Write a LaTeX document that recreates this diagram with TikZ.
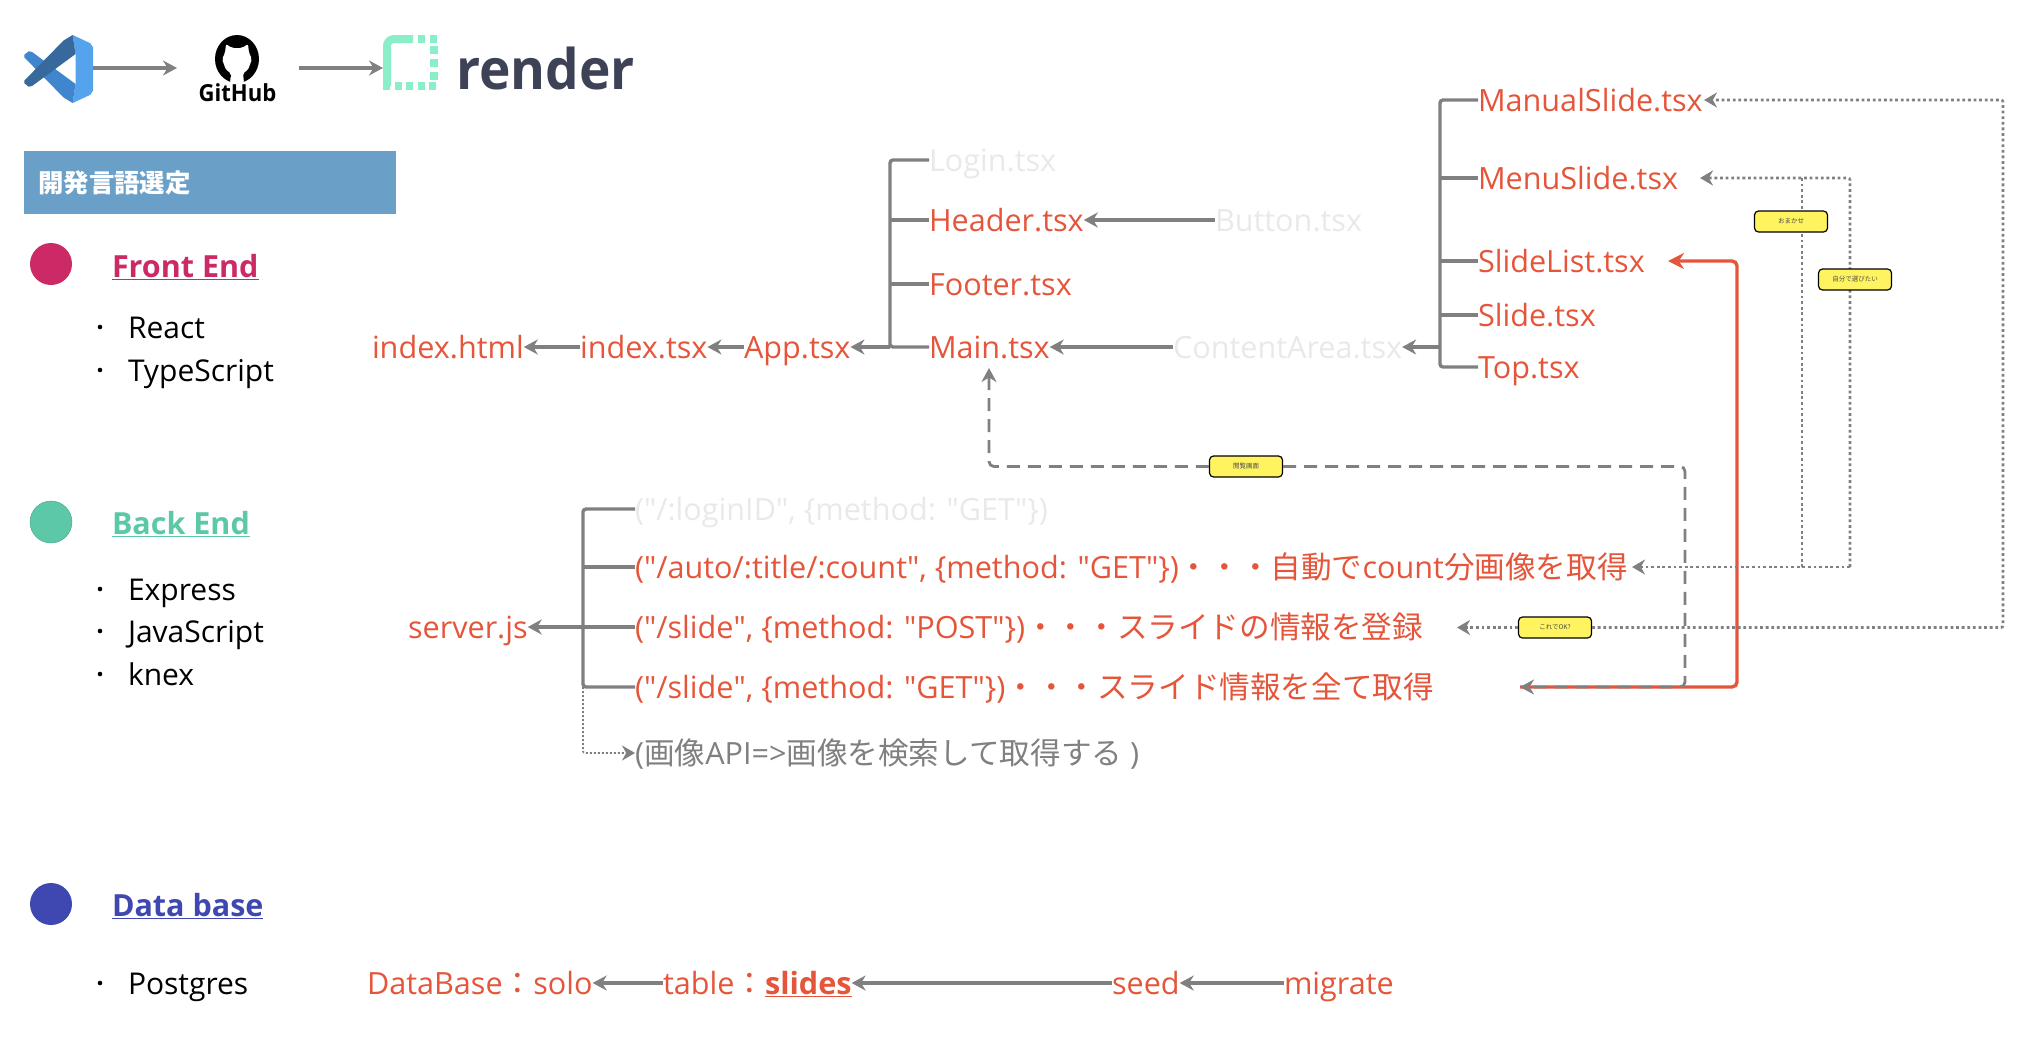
\documentclass[tikz,border=0pt]{standalone}
\usepackage{fontspec}
\setmainfont{Open Sans}
\newfontfamily\cjk{Noto Sans CJK JP}
\newfontfamily\rawfont{Open Sans}
\usetikzlibrary{arrows.meta}
\definecolor{tred}{HTML}{E5553A}
\definecolor{tgray}{HTML}{808080}
\definecolor{tfaint}{HTML}{E9E9E9}
\definecolor{tnote}{HTML}{FFF45F}
\definecolor{tfront}{HTML}{CC2A66}
\definecolor{tback}{HTML}{5CC8A8}
\definecolor{tdata}{HTML}{3F48B0}
\definecolor{tmint}{HTML}{8AEEC9}
\definecolor{tink}{HTML}{3D4257}
\definecolor{tbox}{HTML}{6A9FC8}
\definecolor{vsa}{HTML}{55A3EC}
\definecolor{vsb}{HTML}{3F86CE}
\definecolor{vsc}{HTML}{38699C}
\newcommand{\dq}{{\rawfont\symbol{34}}}
\tikzset{
  lab/.style={anchor=west, inner sep=0pt, outer sep=0pt, text height=24pt, text depth=2pt, font=\fontsize{30.6}{36}\selectfont, text=tred},
  faint/.style={lab, text=tfaint},
  plain/.style={lab, text=black, font=\fontsize{30}{36}\selectfont},
  head/.style={lab, font=\bfseries\fontsize{30.5}{36}\selectfont},
  bullet/.style={circle, fill=black, inner sep=0pt, minimum size=4.6pt},
  group/.style={circle, inner sep=0pt, minimum size=42pt},
  note/.style={draw=black, fill=tnote, rounded corners=4pt, line width=1.2pt, minimum width=73pt, minimum height=21pt, inner sep=0pt, font=\cjk\fontsize{6.5}{7}\selectfont, text=black!70},
  arr/.style={draw=tgray, line width=3.4pt, -{Stealth[length=14pt,width=15pt]}},
  branch/.style={draw=tgray, line width=3.4pt, rounded corners=3pt},
  dots/.style={draw=tgray, line width=2.6pt, dash pattern=on 2.8pt off 2.8pt, rounded corners=2pt},
  dotarr/.style={dots, -{Stealth[length=13pt,width=15pt]}},
  dashline/.style={draw=tgray, line width=2.8pt, dash pattern=on 13pt off 8pt, rounded corners=5pt},
}
\begin{document}
\begin{tikzpicture}[x=1pt,y=-1pt]
\useasboundingbox (0,0) rectangle (2020,1042);

\begin{scope}[shift={(23,35)},xscale=.7,yscale=.68]
\fill[vsa] (71,0) -- (96,12) -- (100,18) -- (100,82) -- (96,88) -- (71,100) -- (75,72) -- (75,28) -- cycle;
\fill[vsb] (71,100) -- (75,72) -- (13,25) -- (8,24) -- (2,29) -- (2,33) -- (58,92) -- cycle;
\fill[vsc] (71,0) -- (75,28) -- (13,75) -- (8,76) -- (2,71) -- (2,67) -- (58,8) -- cycle;
\end{scope}
\node[inner sep=0pt, minimum width=70pt, minimum height=68pt] (vscode) at (58,68) {};

\fill[black] (237,59) ellipse (22 and 24);
\fill[white, rounded corners=2pt] (226,44) -- (232,48) -- (242,48) -- (248,44) -- (249,53) -- (252,59) -- (248,70) -- (243,73) -- (244,83) -- (230,83) -- (231,73) -- (226,70) -- (222,59) -- (225,53) -- cycle;
\draw[black, line width=1.5pt] (220,72) .. controls (224,76) and (227,76) .. (231,76);
\node[inner sep=0pt, xscale=.94] (github) at (237.5,93) {\bfseries\fontsize{23.5}{26}\selectfont GitHub};
\coordinate (ghin) at (177,68);
\coordinate (ghout) at (299,68);

\draw[line width=8pt, tmint, rounded corners=7pt] (387,86) -- (387,39) -- (413,39);
\draw[line width=8pt, tmint, dash pattern=on 7pt off 4.5pt] (418,39) -- (438,39);
\draw[line width=8pt, tmint, dash pattern=on 8pt off 5pt] (434,46) -- (434,82);
\draw[line width=8pt, tmint, dash pattern=on 7pt off 4.5pt] (383,86) -- (438,86);
\coordinate (renderin) at (383,68);
\node[inner sep=0pt, anchor=west, text=tink, xscale=.95] (render) at (456,68) {\bfseries\fontsize{56}{60}\selectfont render};

\draw[arr] (vscode.east) -- (ghin);
\draw[arr] (ghout) -- (renderin);

\node[fill=tbox, minimum width=372pt, minimum height=63pt, inner sep=0pt] (title) at (210,182.5) {};
\node[anchor=west, inner sep=0pt, text=white, font=\cjk\bfseries\fontsize{25.4}{30}\selectfont] (titletext) at (38,183) {開発言語選定};

\node[group, fill=tfront] (front) at (51,264) {};
\node[head, text=tfront] (frontname) at (112,266) {\underline{Front End}};
\node[bullet] (b1) at (100,327) {};
\node[plain] (react) at (128,327) {React};
\node[bullet] (b2) at (100,370) {};
\node[plain] (tscript) at (128,370) {TypeScript};

\node[group, fill=tback, draw=tback!80!black] (back) at (51,522) {};
\node[head, text=tback] (backname) at (112,523) {\underline{Back End}};
\node[bullet] (b3) at (100,589) {};
\node[plain] (express) at (128,589) {Express};
\node[bullet] (b4) at (100,631) {};
\node[plain] (jscript) at (128,631) {JavaScript};
\node[bullet] (b5) at (100,674) {};
\node[plain] (knex) at (128,674) {knex};

\node[group, fill=tdata] (data) at (51,904) {};
\node[head, text=tdata] (dataname) at (112,905) {\underline{Data base}};
\node[bullet] (b6) at (100,983) {};
\node[plain] (postgres) at (128,983) {Postgres};

\node[lab] (indexhtml) at (372,347) {index.html};
\node[lab] (indextsx) at (580,347) {index.tsx};
\node[lab] (apptsx) at (744,347) {App.tsx};
\node[faint] (login) at (929,160) {Login.tsx};
\node[lab] (header) at (929,220) {Header.tsx};
\node[lab] (footer) at (929,284) {Footer.tsx};
\node[lab] (main) at (929,347) {Main.tsx};
\node[faint] (button) at (1215,220) {Button.tsx};
\node[faint] (content) at (1173,347) {ContentArea.tsx};
\node[lab] (manual) at (1478,100) {ManualSlide.tsx};
\node[lab] (menu) at (1478,178) {MenuSlide.tsx};
\node[lab] (slidelist) at (1478,261) {SlideList.tsx};
\node[lab] (slide) at (1478,315) {Slide.tsx};
\node[lab] (top) at (1478,367) {Top.tsx};

\coordinate (apptrunk) at (890,347);
\coordinate (listtrunk) at (1440,347);
\draw[arr] (indextsx.west) -- (indexhtml.east);
\draw[arr] (apptsx.west) -- (indextsx.east);
\draw[arr] (apptrunk) -- (apptsx.east);
\draw[branch] (login.west) -- (login.west -| apptrunk) -- (apptrunk) -- (main.west);
\draw[branch] (header.west) -- (header.west -| apptrunk);
\draw[branch] (footer.west) -- (footer.west -| apptrunk);
\draw[arr] (button.west) -- (header.east);
\draw[arr] (content.west) -- (main.east);
\draw[arr] (listtrunk) -- (content.east);
\draw[branch] (manual.west) -- (manual.west -| listtrunk) -- (top.west -| listtrunk) -- (top.west);
\draw[branch] (menu.west) -- (menu.west -| listtrunk);
\draw[branch] (slidelist.west) -- (slidelist.west -| listtrunk);
\draw[branch] (slide.west) -- (slide.west -| listtrunk);

\node[faint] (rlogin) at (635,509) {(\dq/:loginID\dq, \{method: \dq GET\dq\})};
\node[lab] (rauto) at (635,567) {(\dq/auto/:title/:count\dq, \{method: \dq GET\dq\})\cjk・・・自動で\normalfont count\cjk 分画像を取得};
\node[lab] (rpost) at (635,627) {(\dq/slide\dq, \{method: \dq POST\dq\})\cjk・・・スライドの情報を登録};
\node[lab] (rget) at (635,687) {(\dq/slide\dq, \{method: \dq GET\dq\})\cjk・・・スライド情報を全て取得};
\node[lab, text=tgray] (rimage) at (635,753) {(\cjk 画像\normalfont API=>\cjk 画像を検索して取得する\normalfont\ )};
\node[lab] (server) at (408,627) {server.js};

\coordinate (servertrunk) at (583,627);
\draw[arr] (servertrunk) -- (server.east);
\draw[branch] (rlogin.west) -- (rlogin.west -| servertrunk) -- (rget.west -| servertrunk) -- (rget.west);
\draw[branch] (rauto.west) -- (rauto.west -| servertrunk);
\draw[branch] (rpost.west) -- (servertrunk);
\draw[dotarr, line width=1.8pt, dash pattern=on 2pt off 2pt] (rget.west -| servertrunk) -- (rimage.west -| servertrunk) -- (rimage.west);

\node[lab] (dbname) at (367,983) {DataBase\cjk：\normalfont solo};
\node[lab] (table) at (663,983) {table\cjk：\normalfont\textbf{\underline{slides}}};
\node[lab] (seed) at (1112,983) {seed};
\node[lab] (migrate) at (1284,983) {migrate};
\draw[arr] (table.west) -- (dbname.east);
\draw[arr] (seed.west) -- (table.east);
\draw[arr] (migrate.west) -- (seed.east);

\node[note] (etsuran) at (1246,466.5) {閲覧画面};
\node[note] (koredeok) at (1555,627.5) {これでOK?};

\coordinate (autoend) at (1632,567);
\coordinate (menuend) at (1700,178);
\coordinate (manualend) at (1704,100);
\coordinate (postend) at (1457,627.5);
\coordinate (getend) at (1520,687);
\coordinate (listend) at (1668,261);
\coordinate (mainend) at (989,368);

\draw[draw=tred, line width=3.4pt, rounded corners=5pt, -{Stealth[length=16pt,width=16pt]}] (getend) -- (1737,687) -- (1737,261) -- (listend);
\draw[dashline, -{Stealth[length=14pt,width=15pt]}] (etsuran.west) -- (etsuran.west -| mainend) -- (mainend);
\draw[dashline, -{Stealth[length=14pt,width=15pt]}] (etsuran.east) -- (1685,466.5) -- (1685,687) -- (getend);

\draw[dots] (1802,178) -- (1802,567);
\draw[dotarr] (1850,567) -- (autoend);
\draw[dotarr] (1850,567) -- (1850,178) -- (menuend);
\draw[dotarr] (koredeok.west) -- (postend);
\draw[dotarr] (koredeok.east) -- (2003,627.5) -- (2003,100) -- (manualend);

\node[note] (omakase) at (1791,221.5) {おまかせ};
\node[note] (jibun) at (1855,279.5) {自分で選びたい};
\end{tikzpicture}
\end{document}
